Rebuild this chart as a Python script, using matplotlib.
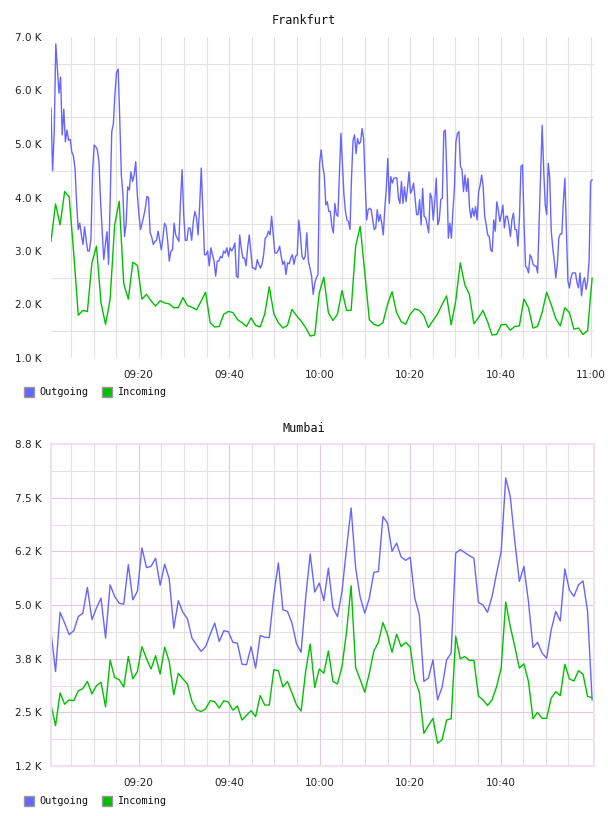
import pandas as pd
import matplotlib
matplotlib.use("Agg")
import matplotlib.pyplot as plt
from matplotlib.patches import Rectangle

# sample window (same for both sites)
day = "2024-01-01 "
t_first, t_last, t_end = "09:00:35", "11:00:15", "11:00:40"
# Frankfurt outgoing is sampled in two runs (before / after 10:00)
fra_out_runs = [("09:00:35", "10:00:20", 170), ("10:00:41", "11:00:15", 179)]

# Frankfurt, values in K
fra_out = [
    5.67, 4.5, 5.2, 6.87, 6.4, 5.95, 6.25, 5.17, 5.65, 5.04,
    5.26, 5.07, 5.09, 4.85, 4.78, 4.55, 3.92, 3.4, 3.52, 3.3,
    3.12, 3.45, 3.2, 3.0, 3.0, 3.24, 4.48, 4.98, 4.95, 4.89,
    4.67, 3.93, 3.37, 2.84, 3.12, 3.36, 2.75, 3.93, 5.23, 5.38,
    5.94, 6.34, 6.4, 5.48, 4.42, 4.05, 3.27, 3.52, 4.2, 4.14,
    4.48, 4.3, 4.42, 4.67, 4.05, 3.68, 3.4, 3.52, 3.65, 3.8,
    4.02, 4.0, 3.34, 3.26, 3.12, 3.18, 3.2, 3.37, 3.2, 3.02,
    3.24, 3.52, 3.46, 3.18, 2.81, 3.0, 3.02, 3.52, 3.3, 3.24,
    3.18, 3.93, 4.52, 3.68, 3.2, 3.2, 3.43, 3.43, 3.2, 3.55,
    3.74, 3.62, 3.3, 3.86, 4.55, 3.74, 2.93, 2.93, 3.0, 2.72,
    3.06, 2.93, 2.81, 2.53, 2.81, 2.81, 2.9, 2.87, 3.0, 2.96,
    3.06, 2.9, 3.06, 3.0, 3.06, 3.15, 2.53, 2.5, 3.3, 3.06,
    2.87, 2.87, 2.72, 3.06, 3.3, 3.0, 2.68, 2.68, 2.65, 2.84,
    2.75, 2.68, 2.75, 2.93, 3.24, 3.27, 3.37, 3.3, 3.65, 3.3,
    2.96, 2.96, 3.0, 3.09, 2.9, 2.75, 2.81, 2.56, 2.78, 2.76,
    2.87, 2.93, 2.75, 2.9, 2.93, 3.58, 3.3, 2.9, 2.84, 2.9,
    3.34, 2.81, 2.68, 2.53, 2.19, 2.4, 2.5, 2.56, 4.64, 4.89,
    4.58, 4.42, 3.86, 3.92, 3.74, 3.74, 3.46, 3.34, 3.89, 3.68,
    3.65, 4.42, 5.2, 4.61, 4.05, 3.74, 3.58, 3.55, 3.4, 4.36,
    5.07, 5.17, 4.82, 5.1, 5.0, 5.04, 5.29, 5.1, 4.3, 3.58,
    3.77, 3.8, 3.77, 3.58, 3.4, 3.43, 3.77, 3.55, 3.68, 3.52,
    3.3, 3.8, 4.17, 4.73, 3.89, 4.39, 4.27, 4.36, 4.37, 4.36,
    3.99, 3.89, 4.3, 3.89, 4.2, 3.92, 4.17, 4.48, 4.08, 4.14,
    4.27, 3.99, 3.68, 3.68, 3.96, 3.49, 4.17, 3.65, 3.62, 3.49,
    3.34, 4.08, 3.99, 3.58, 3.92, 4.36, 3.49, 3.58, 3.96, 3.99,
    5.23, 5.26, 4.42, 3.24, 3.52, 3.24, 3.74, 4.17, 5.04, 5.2,
    5.23, 4.58, 4.52, 4.11, 4.42, 4.11, 4.36, 3.8, 3.62, 3.8,
    3.65, 3.83, 3.58, 4.11, 4.23, 4.42, 4.2, 3.65, 3.49, 3.3,
    3.27, 3.02, 2.99, 3.58, 3.37, 3.92, 3.77, 3.55, 3.68, 3.86,
    3.43, 3.65, 3.65, 3.49, 3.27, 3.58, 3.71, 3.4, 3.4, 3.09,
    3.65, 4.58, 4.61, 3.55, 2.72, 2.68, 2.59, 2.93, 2.87, 2.75,
    2.72, 2.72, 2.59, 3.55, 4.42, 5.35, 4.52, 3.86, 3.68, 4.64,
    4.36, 3.37, 3.06, 2.81, 2.5, 2.75, 3.24, 3.32, 3.32, 3.92,
    4.36, 3.37, 2.44, 2.31, 2.5, 2.59, 2.59, 2.59, 2.41, 2.31,
    2.59, 2.16, 2.41, 2.5, 2.28, 2.44, 2.81, 4.3, 4.33,
]
fra_in = [
    3.18, 3.88, 3.49, 4.11, 4.01, 2.95, 1.8, 1.89, 1.87, 2.78,
    3.09, 2.03, 1.63, 2.1, 3.49, 3.93, 2.39, 2.1, 2.79, 2.73,
    2.1, 2.19, 2.07, 1.97, 2.07, 2.03, 2.01, 1.94, 1.94, 2.13,
    1.98, 1.95, 1.9, 2.06, 2.23, 1.66, 1.58, 1.59, 1.82, 1.87,
    1.85, 1.72, 1.66, 1.59, 1.75, 1.61, 1.58, 1.82, 2.33, 1.83,
    1.66, 1.56, 1.61, 1.91, 1.79, 1.69, 1.57, 1.41, 1.43, 2.22,
    2.51, 1.85, 1.70, 1.82, 2.26, 1.89, 1.89, 3.09, 3.46, 2.6,
    1.72, 1.63, 1.60, 1.66, 2.0, 2.24, 1.85, 1.68, 1.63, 1.82,
    1.92, 1.89, 1.79, 1.57, 1.70, 1.82, 2.0, 2.16, 1.62, 2.06,
    2.78, 2.37, 2.19, 1.64, 1.75, 1.89, 1.68, 1.43, 1.44, 1.62,
    1.63, 1.52, 1.59, 1.60, 2.1, 1.94, 1.56, 1.59, 1.85, 2.23,
    2.0, 1.74, 1.6, 1.94, 1.85, 1.54, 1.56, 1.44, 1.51, 2.49,
]

# Mumbai, values in K
mum_out = [
    4.37, 3.45, 4.83, 4.58, 4.31, 4.4, 4.73, 4.81, 5.41, 4.66,
    4.93, 5.16, 4.23, 5.47, 5.2, 5.04, 5.02, 5.94, 5.12, 5.32,
    6.33, 5.87, 5.9, 6.09, 5.46, 5.95, 5.61, 4.46, 5.1, 4.83,
    4.68, 4.23, 4.07, 3.92, 4.03, 4.31, 4.58, 4.15, 4.4, 4.38,
    4.13, 4.11, 3.62, 3.61, 4.03, 3.53, 4.29, 4.25, 4.24, 5.24,
    5.98, 4.89, 4.85, 4.58, 4.09, 3.9, 5.16, 6.19, 5.3, 5.51,
    5.1, 5.86, 4.94, 4.73, 5.32, 6.33, 7.26, 5.86, 5.18, 4.81,
    5.16, 5.76, 5.78, 7.06, 6.91, 6.25, 6.44, 6.12, 6.04, 6.11,
    5.16, 4.77, 3.22, 3.3, 3.72, 2.79, 3.08, 3.72, 3.88, 6.21,
    6.29, 6.22, 6.15, 6.09, 5.06, 5.0, 4.83, 5.2, 5.74, 6.25,
    7.96, 7.53, 6.48, 5.55, 5.9, 5.08, 4.01, 4.13, 3.88, 3.76,
    4.42, 4.85, 4.63, 5.84, 5.35, 5.2, 5.47, 5.56, 4.85, 2.79,
]
mum_in = [
    2.67, 2.19, 2.95, 2.69, 2.79, 2.77, 3.0, 3.05, 3.22, 2.93,
    3.12, 3.2, 2.63, 3.72, 3.31, 3.26, 3.09, 3.8, 3.28, 3.45,
    4.03, 3.75, 3.51, 3.82, 3.39, 4.02, 3.68, 2.91, 3.41, 3.28,
    3.16, 2.75, 2.56, 2.52, 2.58, 2.77, 2.75, 2.6, 2.77, 2.74,
    2.55, 2.65, 2.32, 2.43, 2.54, 2.4, 2.89, 2.67, 2.67, 3.49,
    3.47, 3.09, 3.22, 2.95, 2.67, 2.53, 3.45, 4.09, 3.08, 3.51,
    3.41, 3.93, 3.22, 3.16, 3.57, 4.38, 5.45, 3.54, 3.26, 2.97,
    3.41, 3.93, 4.13, 4.59, 4.31, 3.9, 4.32, 4.03, 4.13, 4.02,
    3.26, 2.97, 2.01, 2.19, 2.36, 1.78, 1.86, 2.32, 2.35, 4.27,
    3.75, 3.8, 3.71, 3.71, 2.88, 2.79, 2.66, 2.79, 3.1, 3.53,
    5.07, 4.5, 4.03, 3.53, 3.63, 3.22, 2.35, 2.5, 2.36, 2.36,
    2.83, 2.98, 2.89, 3.62, 3.28, 3.23, 3.47, 3.39, 2.87, 2.84,
]

fra_yticks = [1.0, 2.0, 3.0, 4.0, 5.0, 6.0, 7.0]
mum_yticks = [1.25, 2.5, 3.75, 5.0, 6.25, 7.5, 8.75]
fra_xticks = ["09:20", "09:40", "10:00", "10:20", "10:40", "11:00"]
mum_xticks = ["09:20", "09:40", "10:00", "10:20", "10:40"]

BLUE = "#6666ff"
GREEN = "#00c000"
GRID = "#e2e2e2"
PINK = "#e2c8e2"
BORDER = "#f0e0f0"
MONO = "DejaVu Sans Mono"


def times(n):
    return pd.date_range(day + t_first, day + t_last, periods=n)


def run_times(runs):
    parts = [pd.date_range(day + a, day + b, periods=n) for a, b, n in runs]
    return parts[0].append(parts[1:])


def setup(ax, out_t, out, inc, yticks, xticks, last_minor, pink):
    ax.plot(out_t, out, color=BLUE, lw=1.0)
    ax.plot(times(len(inc)), inc, color=GREEN, lw=1.0)
    ax.set_xlim(pd.Timestamp(day + t_first), pd.Timestamp(day + t_end))
    ax.set_ylim(yticks[0], yticks[-1])

    major = [pd.Timestamp(day + s) for s in xticks]
    minor = [t for t in pd.date_range(day + "09:05", day + last_minor, freq="5min")
             if t not in major]
    ax.set_xticks(major)
    ax.set_xticklabels(xticks)
    ax.set_xticks(minor, minor=True)

    ax.set_yticks(yticks)
    ax.set_yticklabels([f"{v:.1f} K" for v in yticks])
    step = yticks[1] - yticks[0]
    ax.set_yticks([v + step / 2 for v in yticks[:-1]], minor=True)

    ax.tick_params(which="both", length=0)
    ax.tick_params(axis="y", pad=7, labelsize=7.5, labelcolor="#222222")
    ax.tick_params(axis="x", pad=9, labelsize=7.5, labelcolor="#222222")
    ax.set_axisbelow(True)

    ax.xaxis.grid(True, which="minor", color=GRID, lw=0.8)
    ax.yaxis.grid(True, which="minor", color=GRID, lw=0.8)
    if pink:
        ax.xaxis.grid(True, which="major", color=PINK, lw=0.8)
        ax.yaxis.grid(True, which="major", color=PINK, lw=0.8)
        for s in ax.spines.values():
            s.set_color(BORDER)
            s.set_linewidth(1.6)
    else:
        ax.xaxis.grid(True, which="major", color=GRID, lw=0.8)
        ax.yaxis.grid(False, which="major")
        for s in ax.spines.values():
            s.set_visible(False)


def legend(fig, ytop):
    H = 816.0
    W = 608.0
    for x0, col, name in [(24, BLUE, "Outgoing"), (102, GREEN, "Incoming")]:
        fig.patches.append(Rectangle((x0 / W, (H - ytop - 10) / H), 10 / W, 10 / H,
                                     transform=fig.transFigure, facecolor=col,
                                     edgecolor="#999999", lw=1.0))
        fig.text((x0 + 15) / W, (H - ytop - 5) / H, name, family=MONO,
                 size=7.3, va="center", ha="left", color="#111111")


fig = plt.figure(figsize=(6.08, 8.16), dpi=100)
ax1 = fig.add_axes([51 / 608, 458 / 816, 543 / 608, 321 / 816])
ax2 = fig.add_axes([51 / 608, 50 / 816, 543 / 608, 322 / 816])

setup(ax1, run_times(fra_out_runs), fra_out, fra_in, fra_yticks, fra_xticks, "11:00", False)
setup(ax2, times(len(mum_out)), mum_out, mum_in, mum_yticks, mum_xticks, "10:55", True)

fig.text(304 / 608, (816 - 20.5) / 816, "Frankfurt", ha="center", va="center",
         family=MONO, size=8.5, color="#111111")
fig.text(304 / 608, (816 - 428.5) / 816, "Mumbai", ha="center", va="center",
         family=MONO, size=8.5, color="#111111")

legend(fig, 387)
legend(fig, 796)

fig.savefig("out.png", dpi=100)
